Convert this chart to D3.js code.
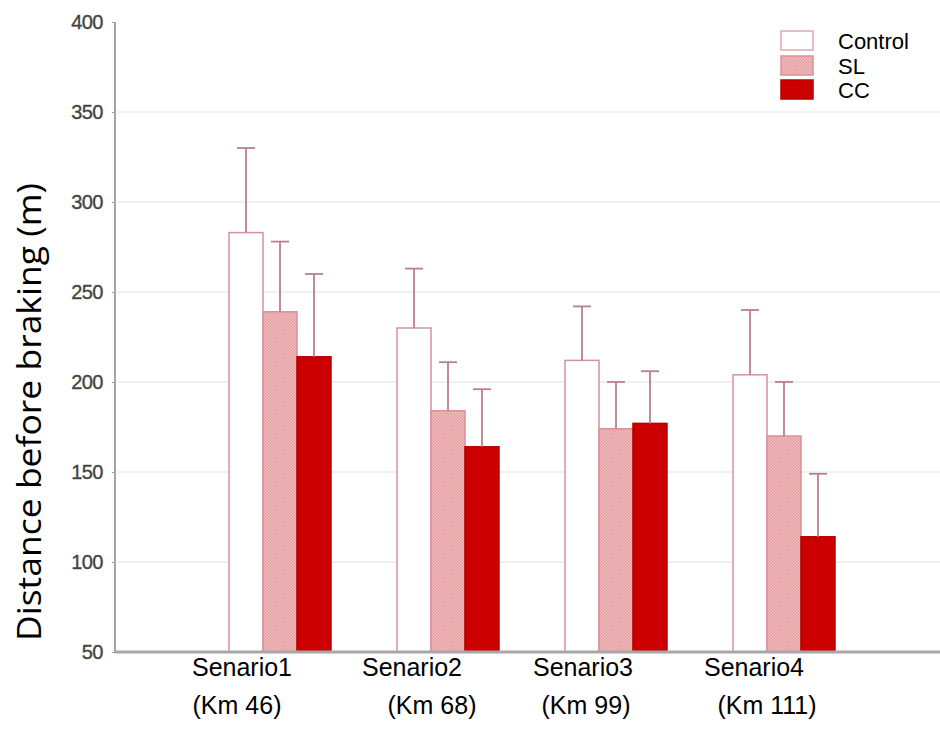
<!DOCTYPE html>
<html>
<head>
<meta charset="utf-8">
<script src="https://cdn.jsdelivr.net/npm/d3@7"></script>
<style>
  html, body { margin: 0; padding: 0; background: #fff; }
  svg { display: block; }
</style>
</head>
<body>
<svg id="chart" width="940" height="744"></svg>
<script>
// ---- data ----
const scenarios = ["Senario1", "Senario2", "Senario3", "Senario4"];
const scenarioKm = ["(Km 46)", "(Km 68)", "(Km 99)", "(Km 111)"];
const seriesNames = ["Control", "SL", "CC"];
const controlMean = [283, 230, 212, 204];
const controlErr  = [47, 33, 30, 36];
const slMean      = [239, 184, 174, 170];
const slErr       = [39, 27, 26, 30];
const ccMean      = [214, 164, 177, 114];
const ccErr       = [46, 32, 29, 35];
const yTicks = [50, 100, 150, 200, 250, 300, 350, 400];

// ---- layout ----
const svg = d3.select("#chart");
const x0 = 115, yBase = 652, yTop = 22;
const y = d3.scaleLinear().domain([50, 400]).range([yBase, yTop]);
const x = d3.scaleBand().domain(scenarios).range([196, 868]).paddingInner(0.393).paddingOuter(0.1965);
const xs = d3.scaleBand().domain(seriesNames).range([0, x.bandwidth()]);

const means = [controlMean, slMean, ccMean];
const errs = [controlErr, slErr, ccErr];

// pattern for SL
const defs = svg.append("defs");
const pat = defs.append("pattern").attr("id", "slpat").attr("patternUnits", "userSpaceOnUse")
  .attr("width", 3).attr("height", 3);
pat.append("rect").attr("width", 3).attr("height", 3).attr("fill", "#f3c0c0");
pat.append("rect").attr("x", 0).attr("y", 0).attr("width", 1.5).attr("height", 1.5).attr("fill", "#e39a9e");
pat.append("rect").attr("x", 1.5).attr("y", 1.5).attr("width", 1.5).attr("height", 1.5).attr("fill", "#e39a9e");

const fills = {Control: "#ffffff", SL: "url(#slpat)", CC: "#cc0000"};
const strokes = {Control: "#d3939d", SL: "#dc8f98", CC: "#b50000"};

// gridlines
svg.append("g").selectAll("line").data(yTicks.filter(t => t > 50 && t < 400)).join("line")
  .attr("x1", x0 + 2).attr("x2", 940)
  .attr("y1", d => y(d)).attr("y2", d => y(d))
  .attr("stroke", "#ededed").attr("stroke-width", 1.5);

// y axis
const yAxis = d3.axisLeft(y).tickValues(yTicks).tickSize(3).tickPadding(9).tickFormat(d3.format("d"));
const ga = svg.append("g").attr("transform", `translate(${x0},0)`).call(yAxis);
ga.select(".domain").remove();
ga.selectAll(".tick line").attr("stroke", "#999");
ga.selectAll(".tick text").attr("font-family", "Liberation Sans, Arial, sans-serif")
  .attr("font-size", 20).attr("fill", "#444").attr("stroke", "#444").attr("stroke-width", 0.35)
  .attr("letter-spacing", "-0.5");
svg.append("line").attr("x1", x0).attr("x2", x0).attr("y1", yTop).attr("y2", yBase)
  .attr("stroke", "#a3a3a3").attr("stroke-width", 2);

// bars
const groups = svg.append("g").selectAll("g").data(scenarios).join("g")
  .attr("transform", d => `translate(${x(d)},0)`);

seriesNames.forEach((s, si) => {
  groups.append("rect")
    .attr("x", xs(s)).attr("width", xs.bandwidth())
    .attr("y", (d, i) => y(means[si][i]))
    .attr("height", (d, i) => yBase - y(means[si][i]))
    .attr("fill", fills[s]).attr("stroke", strokes[s]).attr("stroke-width", 1.5);
});

// error bars
seriesNames.forEach((s, si) => {
  const cx = xs(s) + xs.bandwidth() / 2;
  groups.append("line")
    .attr("x1", cx).attr("x2", cx)
    .attr("y1", (d, i) => y(means[si][i]))
    .attr("y2", (d, i) => y(means[si][i] + errs[si][i]))
    .attr("stroke", "#bb7f88").attr("stroke-width", 1.8);
  groups.append("line")
    .attr("x1", cx - 9).attr("x2", cx + 9)
    .attr("y1", (d, i) => y(means[si][i] + errs[si][i]))
    .attr("y2", (d, i) => y(means[si][i] + errs[si][i]))
    .attr("stroke", "#bb7f88").attr("stroke-width", 1.8);
});

// x axis baseline
svg.append("line").attr("x1", x0).attr("x2", 940).attr("y1", yBase).attr("y2", yBase)
  .attr("stroke", "#a8a8a8").attr("stroke-width", 3);

// x labels
const line1Shift = [-38, -36, -33, -30];
const line2Shift = [-43, -16, -30, -17];
const xl = svg.append("g").attr("font-family", "Liberation Sans, Arial, sans-serif")
  .attr("font-size", 25).attr("fill", "#000").attr("text-anchor", "middle");
scenarios.forEach((s, i) => {
  const cx = x(s) + x.bandwidth() / 2;
  xl.append("text").attr("x", cx + line1Shift[i]).attr("y", 676).text(s);
  xl.append("text").attr("x", cx + line2Shift[i]).attr("y", 714).text(scenarioKm[i]);
});

// y title
svg.append("text")
  .attr("transform", "translate(41,412) rotate(-90)")
  .attr("text-anchor", "middle")
  .attr("font-family", "Open Sans, Noto Sans, sans-serif")
  .attr("font-size", 32).attr("fill", "#000")
  .attr("textLength", 458).attr("lengthAdjust", "spacingAndGlyphs")
  .text("Distance before braking (m)");

// legend
const lg = svg.append("g");
const legendY = [31, 56, 80];
seriesNames.forEach((s, i) => {
  lg.append("rect").attr("x", 781).attr("y", legendY[i]).attr("width", 32).attr("height", 19)
    .attr("fill", fills[s]).attr("stroke", s === "Control" ? "#e2a6ae" : strokes[s]).attr("stroke-width", 1.5);
  lg.append("text").attr("x", 838).attr("y", legendY[i] + 10).attr("dy", "0.35em")
    .attr("font-family", "Liberation Sans, Arial, sans-serif").attr("font-size", 22)
    .attr("fill", "#000").text(s);
});
</script>
</body>
</html>
